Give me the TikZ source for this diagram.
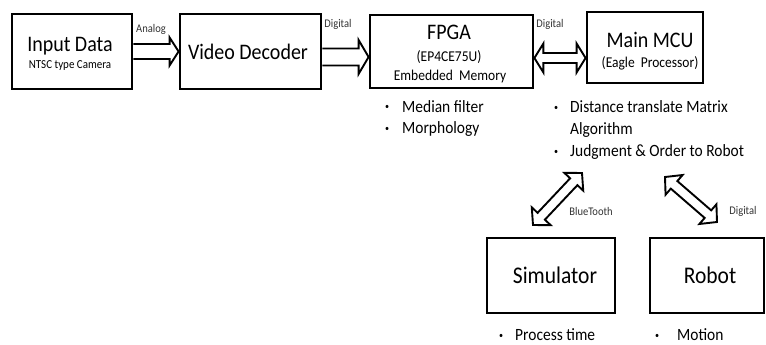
\documentclass[tikz,border=0pt]{standalone}
\usepackage{fontspec}
\setmainfont{Carlito}[FakeStretch=0.9]
\usetikzlibrary{calc}
\newcommand{\harrow}[5]{%
  \coordinate (hs) at (#1);
  \coordinate (he) at (#2);
  \coordinate (hh) at ($(he)!#5!(hs)$);
  \draw[arrline] ($(hs)!#3!90:(he)$) -- ($(hh)!#3!90:(he)$) -- ($(hh)!#4!90:(he)$) -- (he) -- ($(hh)!#4!-90:(he)$) -- ($(hh)!#3!-90:(he)$) -- ($(hs)!#3!-90:(he)$);
}
\newcommand{\dharrow}[5]{%
  \coordinate (hs) at (#1);
  \coordinate (he) at (#2);
  \coordinate (ha) at ($(hs)!#5!(he)$);
  \coordinate (hb) at ($(he)!#5!(hs)$);
  \draw[arrline] (hs) -- ($(ha)!#4!90:(he)$) -- ($(ha)!#3!90:(he)$) -- ($(hb)!#3!90:(he)$) -- ($(hb)!#4!90:(he)$) -- (he) -- ($(hb)!#4!-90:(he)$) -- ($(hb)!#3!-90:(he)$) -- ($(ha)!#3!-90:(he)$) -- ($(ha)!#4!-90:(he)$) -- cycle;
}
\newcommand{\bul}[1]{\makebox[#1][l]{\fontsize{9}{10}\selectfont\raisebox{2pt}{•}}}
\tikzset{
  box/.style={draw, line width=2.8pt, inner sep=0pt},
  arrline/.style={draw, line width=1.9pt, line join=miter, fill=white},
  title/.style={font=\fontsize{22.2}{26}\selectfont, inner sep=0pt},
  bigtitle/.style={font=\fontsize{23.9}{26}\selectfont, inner sep=0pt},
  sub/.style={font=\fontsize{15}{18}\selectfont, inner sep=0pt},
  small/.style={font=\fontsize{12.2}{14}\selectfont, inner sep=0pt},
  lbl/.style={font=\fontsize{11.7}{13}\selectfont, inner sep=0pt, text=black!80},
  blist/.style={font=\fontsize{17.2}{22}\selectfont, inner sep=0pt, anchor=base west, align=left},
}
\begin{document}
\begin{tikzpicture}[x=1pt,y=-1pt]
\useasboundingbox (0,0) rectangle (766,345);
% boxes
\node[box, minimum width=120, minimum height=75] (inp) at (72,51.5) {};
\node[box, minimum width=141, minimum height=75] (vid) at (250.5,51.5) {};
\node[box, minimum width=163, minimum height=73] (fpga) at (451.5,51.5) {};
\node[box, minimum width=116, minimum height=71] (mcu) at (645,47.5) {};
\node[box, minimum width=128, minimum height=75] (sim) at (551,275.5) {};
\node[box, minimum width=114, minimum height=75] (rob) at (707,275.5) {};
% box texts
\node[title] (inpT) at (70,46) {Input Data};
\node[small] (inpS) at (70,66) {NTSC type Camera};
\node[title] (vidT) at (248,52) {Video Decoder};
\node[title] (fpgaT) at (449,32) {FPGA};
\node[sub] (fpgaS1) at (449,57) {(EP4CE75U)};
\node[sub] (fpgaS2) at (450,77) {Embedded\ \ Memory};
\node[title] (mcuT) at (650,40) {Main MCU};
\node[sub] (mcuS) at (650,63) {(Eagle\ \ Processor)};
\node[bigtitle] (simT) at (555,275) {Simulator};
\node[bigtitle] (robT) at (710,275) {Robot};
% arrows
\harrow{inp.east}{vid.west}{7.5pt}{14pt}{9pt}
\coordinate (a2s) at ($(vid.east)+(0,5.5)$);
\coordinate (a2e) at ($(fpga.west)+(0,5.5)$);
\harrow{a2s}{a2e}{8.5pt}{17pt}{10pt}
\coordinate (a3s) at ($(fpga.east)+(0,6.5)$);
\coordinate (a3e) at ($(mcu.west)+(0,10.5)$);
\dharrow{a3s}{a3e}{5pt}{14.5pt}{9pt}
\coordinate (a4s) at (533,225);
\coordinate (a4e) at (582,173);
\dharrow{a4s}{a4e}{5pt}{13pt}{12pt}
\coordinate (a5s) at (665,177);
\coordinate (a5e) at (717,222);
\dharrow{a5s}{a5e}{5pt}{13pt}{12pt}
% labels
\node[lbl] (l1) at (151,29) {Analog};
\node[lbl] (l2) at (338,24) {Digital};
\node[lbl] (l3) at (550,24) {Digital};
\node[lbl] (l4) at (591,211) {BlueTooth};
\node[lbl] (l5) at (743,211) {Digital};
% bullet lists
\node[blist] (fl) at (385,112) {\begin{tabular}[t]{@{}l@{}}\bul{17pt}Median filter\\ \bul{17pt}Morphology\end{tabular}};
\node[blist] (ml) at (554,113) {\begin{tabular}[t]{@{}l@{}l@{}}\bul{16pt}&Distance translate Matrix\\ &Algorithm\\ \bul{16pt}&Judgment \& Order to Robot\end{tabular}};
\node[blist] (sl) at (499,340) {\bul{16pt}Process time};
\node[blist] (rl) at (655,340) {\bul{22pt}Motion};
\end{tikzpicture}
\end{document}
